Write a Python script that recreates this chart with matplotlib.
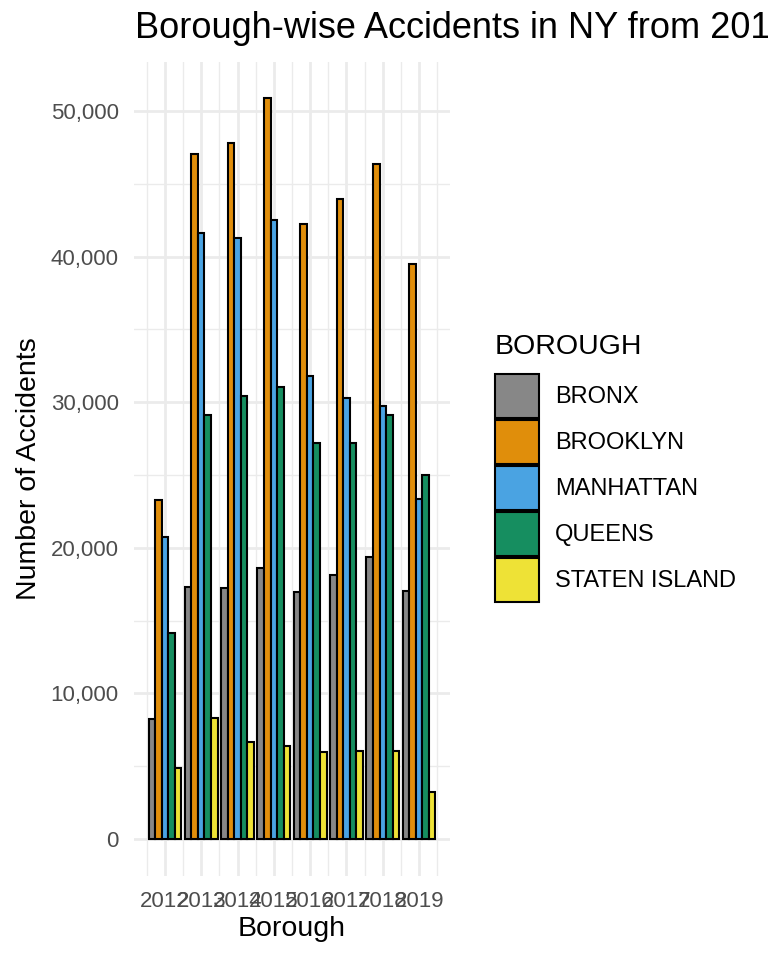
import matplotlib
matplotlib.use("Agg")
import matplotlib.pyplot as plt
from matplotlib.patches import Patch
from matplotlib.ticker import FuncFormatter, MultipleLocator, FixedLocator

plt.rcParams["font.family"] = ["Liberation Sans", "DejaVu Sans"]

years = ["2012", "2013", "2014", "2015", "2016", "2017", "2018", "2019"]
boroughs = ["BRONX", "BROOKLYN", "MANHATTAN", "QUEENS", "STATEN ISLAND"]

bronx = [8260, 17330, 17220, 18590, 16960, 18110, 19350, 17050]
brooklyn = [23300, 47050, 47780, 50870, 42220, 43980, 46340, 39470]
manhattan = [20740, 41600, 41280, 42540, 31800, 30310, 29740, 23330]
queens = [14170, 29120, 30430, 31020, 27180, 27220, 29120, 25000]
staten_island = [4900, 8310, 6640, 6390, 5980, 6070, 6020, 3230]

colors = ["#878787", "#E08E0B", "#4AA3E2", "#168E60", "#EEE236"]
series = [bronx, brooklyn, manhattan, queens, staten_island]

fig = plt.figure(figsize=(7.68, 9.6), dpi=100)
ax = fig.add_axes([134 / 768, 84 / 960, 316 / 768, 814.3 / 960])

# dodged bars, 5 per year, total group width 0.9
bar_w = 0.9 / len(boroughs)
for j, (vals, col) in enumerate(zip(series, colors)):
    xs = [i + 1 + (j - 2) * bar_w for i in range(len(years))]
    ax.bar(xs, vals, width=bar_w, color=col, edgecolor="black", linewidth=1.5, zorder=3)

ax.set_xlim(0.15, 8.85)
ax.set_ylim(-2540, 53390)

ax.set_xticks(range(1, len(years) + 1))
ax.set_xticklabels(years)
ax.xaxis.set_minor_locator(FixedLocator([i + 0.5 for i in range(len(years) + 1)]))
ax.yaxis.set_major_locator(MultipleLocator(10000))
ax.yaxis.set_minor_locator(FixedLocator([5000, 15000, 25000, 35000, 45000]))
ax.yaxis.set_major_formatter(FuncFormatter(lambda v, p: f"{int(v):,}"))

# minimal theme look
ax.grid(which="major", color="#EBEBEB", linewidth=2.0, zorder=0)
ax.grid(which="minor", color="#EBEBEB", linewidth=1.0, zorder=0)
ax.set_axisbelow(True)
for s in ax.spines.values():
    s.set_visible(False)
ax.tick_params(which="both", length=0)
ax.tick_params(axis="both", labelsize=16, labelcolor="#4D4D4D")
ax.tick_params(axis="y", pad=11)
ax.tick_params(axis="x", pad=11)

ax.set_xlabel("Borough", fontsize=20.5, labelpad=3)
ax.set_ylabel("Number of Accidents", fontsize=20.5, labelpad=6)

fig.text(135 / 768, 1 - 38 / 960, "Borough-wise Accidents in NY from 2012 to 2019",
         fontsize=26, ha="left", va="baseline")

handles = [Patch(facecolor=c, edgecolor="black", linewidth=1.5) for c in colors]
leg = fig.legend(handles, boroughs, title="BOROUGH", loc="upper left",
                 bbox_to_anchor=(495 / 768, 1 - 334 / 960), frameon=False,
                 fontsize=17, title_fontsize=20.5, borderpad=0, borderaxespad=0,
                 handlelength=1.86, handleheight=2.5, labelspacing=0.08,
                 handletextpad=0.68)
leg._legend_box.align = "left"
leg._legend_box.sep = 10

fig.savefig("out.png", dpi=100)
